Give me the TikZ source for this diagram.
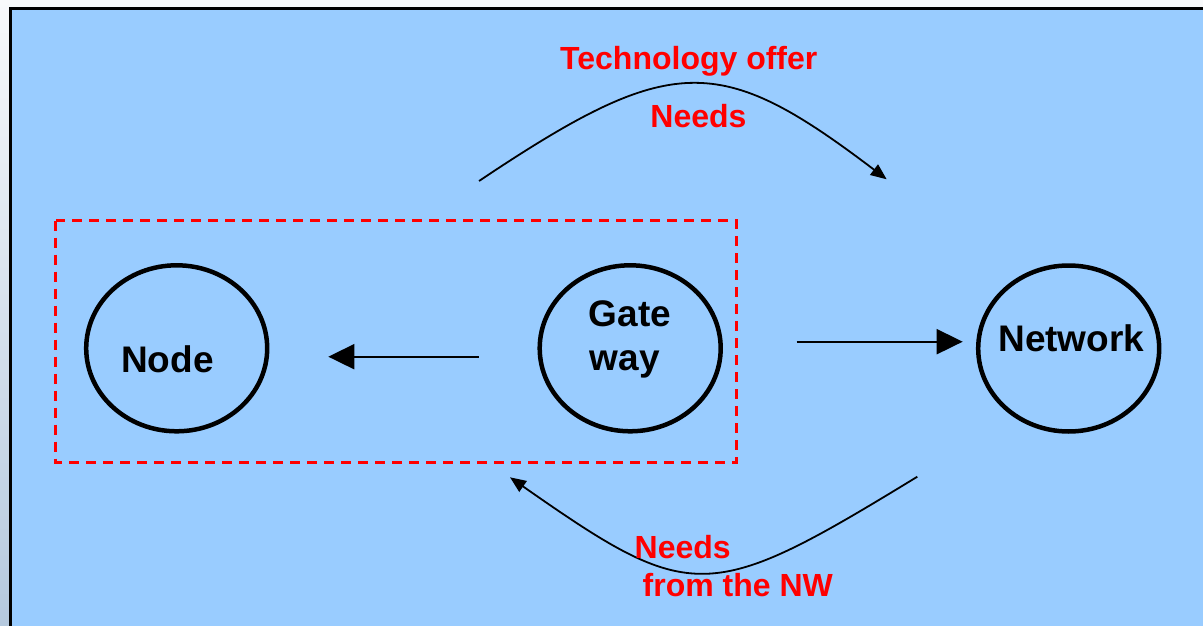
\documentclass[tikz,border=0pt]{standalone}
\usepackage{fontspec}
\setmainfont{Liberation Sans}
\usetikzlibrary{shapes.geometric,arrows.meta}
\definecolor{panelblue}{HTML}{99CCFF}
\definecolor{pagetop}{HTML}{F8F9FB}
\definecolor{pagebottom}{HTML}{B5C9DE}
\definecolor{labelred}{HTML}{FF0000}
\tikzset{
  entity/.style={draw=black, line width=4.5pt, ellipse, inner sep=0pt,
    minimum width=181pt, minimum height=166pt},
  blacktext/.style={inner sep=0pt, font=\fontsize{37}{44}\selectfont\bfseries, text=black},
  redtext/.style={inner sep=0pt, font=\fontsize{32}{38}\selectfont\bfseries, text=labelred},
  bigflow/.style={draw=black, line width=2pt, -{Triangle[length=26pt,width=25pt]}},
  curveflow/.style={draw=black, line width=1.8pt, -{Triangle[length=16pt,width=13pt]}},
  scopebox/.style={draw=labelred, line width=2.5pt, dash pattern=on 10pt off 7pt}
}
\begin{document}
\begin{tikzpicture}[x=1pt, y=-1pt]
  \useasboundingbox (0,0) rectangle (1203,626);
  \clip (0,0) rectangle (1203,626);
  % page and panel
  \fill[top color=pagetop, bottom color=pagebottom] (0,0) rectangle (1203,626);
  \fill[panelblue] (10.5,8.5) rectangle (1220,640);
  \draw[black, line width=3pt] (10.5,640) -- (10.5,8.5) -- (1220,8.5);

  % gateway/node grouping
  \draw[scopebox] (55.7,220.7) rectangle (736.7,462.3);

  % entities
  \node[entity] (nodeC) at (176.7,348.3) {};
  \node[entity] (gwC)   at (630.2,348.3) {};
  \node[entity] (nwC)   at (1068.7,348.5) {};

  \node[blacktext, anchor=base] (nodeT) at (167.5,372.7) {Node};
  \node[blacktext, anchor=base west] (gwT1) at (588.5,326.7) {Gate};
  \node[blacktext, anchor=base west] (gwT2) at (589.5,370.7) {way};
  \node[blacktext, anchor=base] (nwT) at (1071.3,351.7) {Network};

  % straight flows
  \coordinate (gwOut)  at (478.7,356.7);
  \coordinate (nodeIn) at (328.3,356.7);
  \coordinate (gwRight) at (796.7,341.7);
  \coordinate (nwIn)   at (962.7,341.7);
  \draw[bigflow] (gwOut) -- (nodeIn);
  \draw[bigflow] (gwRight) -- (nwIn);

  % curved flows
  \coordinate (topS) at (479,181);
  \coordinate (topE) at (886.7,179.3);
  \coordinate (botS) at (917.3,476.7);
  \coordinate (botE) at (510,477.3);
  \draw[curveflow] (topS) .. controls (672,52) and (719,52) .. (topE);
  \draw[curveflow] (botS) .. controls (708,604.6) and (692,604.6) .. (botE);

  % flow labels
  \node[redtext, anchor=base] (offerT) at (688.8,70) {Technology offer};
  \node[redtext, anchor=base] (needsT) at (698.5,127.3) {Needs};
  \node[redtext, anchor=base] (needsB) at (682.7,558.3) {Needs};
  \node[redtext, anchor=base] (fromNW) at (737.8,596) {from the NW};
\end{tikzpicture}
\end{document}
